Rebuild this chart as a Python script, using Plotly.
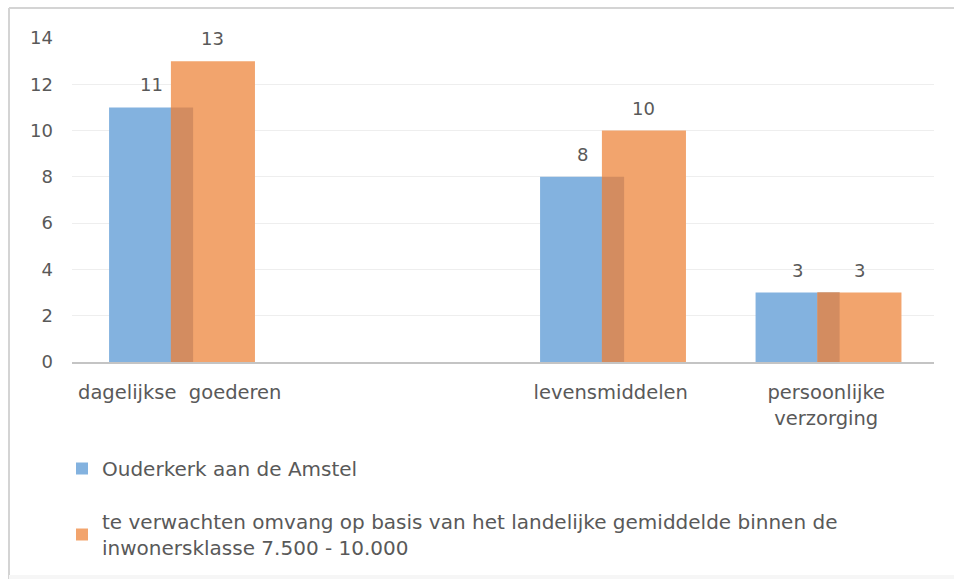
import plotly.graph_objects as go

# Data
categories = ["dagelijkse\u00a0 goederen", " ", "levensmiddelen", "persoonlijke<br>verzorging"]
ouderkerk = [11, None, 8, 3]
verwacht = [13, None, 10, 3]
series_names = [
    "Ouderkerk aan de Amstel",
    "te verwachten omvang op basis van het landelijke gemiddelde binnen de<br>inwonersklasse 7.500 - 10.000",
]
y_ticks = [0, 2, 4, 6, 8, 10, 12, 14]

# Styling
BLUE = "#83B2DF"
ORANGE = "#F2A46D"
OVERLAP = "#D38C60"
TEXT = "#595959"
FONT = "'DejaVu Sans', 'Open Sans', sans-serif"
FS = 18
FS_CAT = 19.5
FS_LEG = 20

BAR_W = 0.39
OFF_A = -0.328
OFF_B = -0.041

W, H = 954, 579
ML, MR, MT, MB = 72, 20, 38, 217
PW, PH = W - ML - MR, H - MT - MB

fig = go.Figure()

fig.add_trace(go.Bar(
    x=categories, y=ouderkerk, name=series_names[0],
    marker=dict(color=BLUE, line=dict(width=0)),
    width=BAR_W, offset=OFF_A, legendgroup="a", hoverinfo="x+y",
))
fig.add_trace(go.Bar(
    x=categories, y=verwacht, name=series_names[1],
    marker=dict(color=ORANGE, line=dict(width=0)),
    width=BAR_W, offset=OFF_B, legendgroup="b", hoverinfo="x+y",
))

# darker band where the two bars overlap
overlap_vals = [None if (a is None or b is None) else min(a, b) for a, b in zip(ouderkerk, verwacht)]
fig.add_trace(go.Bar(
    x=categories, y=overlap_vals, showlegend=False, hoverinfo="skip",
    marker=dict(color=OVERLAP, line=dict(width=0)),
    width=OFF_A + BAR_W - OFF_B, offset=OFF_B,
))

# value labels above each bar
for vals, off in ((ouderkerk, OFF_A), (verwacht, OFF_B)):
    for i, v in enumerate(vals):
        if v is None:
            continue
        fig.add_annotation(
            x=i + off + BAR_W / 2, y=v, xref="x", yref="y",
            text=str(v), showarrow=False, yanchor="bottom", yshift=10,
            font=dict(size=FS, color=TEXT, family=FONT),
        )

# outer frame (left, top and bottom edges)
def px_x(px):
    return (px - ML) / PW

def px_y(py):
    return (H - MB - py) / PH

frame = dict(type="line", xref="paper", yref="paper", layer="below",
             line=dict(color="#D4D4D4", width=2))
fig.add_shape(x0=px_x(9), x1=px_x(9), y0=px_y(579), y1=px_y(8), **frame)
fig.add_shape(x0=px_x(9), x1=px_x(954), y0=px_y(8), y1=px_y(8), **frame)
fig.add_shape(type="line", xref="paper", yref="paper", layer="below",
              x0=px_x(9), x1=px_x(954), y0=px_y(577), y1=px_y(577),
              line=dict(color="#F6F6F6", width=4))

fig.update_layout(
    width=W, height=H,
    margin=dict(l=ML, r=MR, t=MT, b=MB),
    paper_bgcolor="white", plot_bgcolor="white",
    barmode="overlay",
    font=dict(family=FONT, size=FS, color=TEXT),
    showlegend=True,
    legend=dict(
        x=px_x(62), y=px_y(449), xanchor="left", yanchor="top",
        orientation="v", tracegroupgap=24, itemwidth=30,
        font=dict(size=FS_LEG, color=TEXT, family=FONT),
        bgcolor="rgba(0,0,0,0)",
    ),
    xaxis=dict(
        type="category", categoryorder="array", categoryarray=categories,
        range=[-0.5, 3.5], showgrid=False, zeroline=False,
        showline=True, linecolor="#C4C4C4", linewidth=1.5,
        ticks="", ticklabelstandoff=12,
        tickfont=dict(size=FS_CAT, color=TEXT, family=FONT),
    ),
    yaxis=dict(
        range=[0, 14], tickvals=y_ticks, showgrid=True, gridcolor="#EEEEEE", gridwidth=1,
        zeroline=False, showline=False, ticks="", ticklabelstandoff=18,
        tickfont=dict(size=FS, color=TEXT, family=FONT),
    ),
)

fig.write_html("out.html")
